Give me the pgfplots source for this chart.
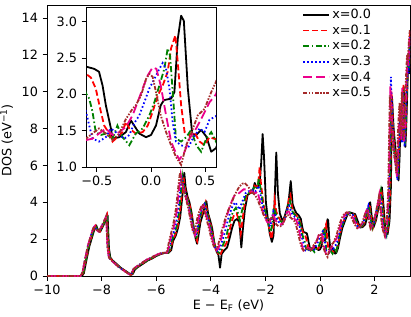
\documentclass[border=0pt]{standalone}
\usepackage{fontspec}
\setmainfont{DejaVu Sans}
\usepackage{pgfplots}
\usepackage{pgfplotstable}
\pgfplotsset{compat=1.18}
\definecolor{mplgreen}{HTML}{008000}
\definecolor{mplbrown}{HTML}{A52A2A}

\pgfplotstableread[row sep=\\]{x y\\
-10 0\\ -8.72 0\\ -8.65 0.15\\ -8.55 0.9\\ -8.45 1.6\\ -8.35 2.1\\ -8.25 2.6\\ -8.2 2.75\\ -8.12 2.45\\ -8.05 2.4\\ -7.95 2.7\\ -7.85 3.0\\ -7.78 3.3\\ -7.73 1.5\\ -7.68 1.0\\ -7.6 0.85\\ -7.45 0.65\\ -7.3 0.45\\ -7.15 0.3\\ -7.0 0.15\\ -6.92 0.06\\ -6.85 0.12\\ -6.78 0.35\\ -6.7 0.45\\ -6.6 0.55\\ -6.45 0.7\\ -6.3 0.85\\ -6.15 0.95\\ -6.0 1.08\\ -5.85 1.18\\ -5.7 1.25\\ -5.55 1.25\\
-5.45 1.4\\ -5.38 1.9\\ -5.28 2.2\\ -5.2 2.6\\ -5.12 3.2\\ -5.05 4.2\\ -4.97 5.6\\ -4.92 4.8\\ -4.85 4.3\\ -4.78 4.0\\ -4.7 3.4\\ -4.62 2.6\\ -4.55 2.0\\ -4.5 1.75\\ -4.45 2.2\\ -4.38 2.9\\ -4.3 3.3\\ -4.22 3.8\\ -4.16 4.05\\ -4.1 3.4\\ -4.02 3.0\\ -3.95 2.6\\ -3.87 1.8\\ -3.78 1.3\\ -3.72 1.15\\ -3.66 0.45\\ -3.6 1.2\\ -3.5 1.4\\ -3.4 1.55\\ -3.3 2.1\\ -3.22 2.6\\ -3.13 3.0\\ -3.03 3.1\\ -2.95 2.9\\ -2.88 1.55\\ -2.82 2.6\\ -2.75 3.6\\ -2.65 4.4\\ -2.55 4.5\\ -2.46 4.55\\ -2.39 5.05\\ -2.32 4.8\\ -2.25 4.9\\ -2.2 5.2\\ -2.15 6.2\\ -2.1 7.7\\ -2.05 6.5\\ -1.98 4.0\\ -1.9 3.0\\ -1.84 2.3\\ -1.76 1.85\\ -1.7 2.2\\ -1.65 4.5\\ -1.6 6.7\\ -1.54 4.5\\ -1.47 3.4\\ -1.4 3.1\\ -1.35 3.0\\ -1.28 3.3\\ -1.22 3.6\\ -1.15 4.0\\ -1.07 5.15\\ -1.0 3.9\\ -0.93 3.6\\ -0.86 3.4\\ -0.78 3.3\\ -0.7 3.1\\ -0.64 2.6\\
-0.6 2.38\\ -0.525 2.35\\ -0.48 2.31\\ -0.447 2.12\\ -0.417 1.85\\ -0.37 1.53\\ -0.355 1.39\\ -0.293 1.41\\ -0.232 1.48\\ -0.185 1.64\\ -0.155 1.57\\ -0.108 1.46\\ -0.046 1.41\\ 0.0 1.44\\ 0.046 1.57\\ 0.09 1.85\\ 0.12 1.92\\ 0.185 1.94\\ 0.216 2.03\\ 0.247 2.76\\ 0.278 3.08\\ 0.303 3.01\\ 0.34 2.08\\ 0.38 1.46\\ 0.417 1.44\\ 0.463 1.51\\ 0.51 1.42\\ 0.556 1.21\\ 0.6 1.26\\
0.66 1.5\\ 0.74 2.09\\ 0.82 2.6\\ 0.92 3.0\\ 1.0 3.3\\ 1.1 3.45\\ 1.2 3.4\\ 1.29 3.36\\ 1.38 3.0\\ 1.47 2.63\\ 1.56 2.65\\ 1.66 2.8\\ 1.75 3.3\\ 1.84 4.0\\ 1.9 3.2\\ 1.96 2.63\\ 2.05 3.0\\ 2.15 3.72\\ 2.22 4.3\\ 2.27 4.81\\ 2.33 3.8\\ 2.39 2.63\\ 2.48 2.27\\ 2.55 3.0\\ 2.6 4.81\\ 2.64 9.72\\ 2.7 8.0\\ 2.76 7.0\\ 2.82 6.0\\ 2.88 5.18\\ 2.92 6.5\\ 2.95 8.45\\ 3.0 9.0\\ 3.04 7.5\\ 3.07 10.26\\ 3.1 8.5\\ 3.13 7.0\\ 3.16 8.0\\ 3.19 9.5\\ 3.22 11.0\\ 3.25 12.1\\ 3.28 11.0\\ 3.3 13.3\\
}\tblA

\pgfplotstableread[row sep=\\]{x y\\
-10 0\\ -8.74 0\\ -8.67 0.18\\ -8.57 0.92\\ -8.47 1.62\\ -8.37 2.12\\ -8.27 2.6\\ -8.22 2.72\\ -8.14 2.45\\ -8.07 2.4\\ -7.97 2.7\\ -7.87 3.0\\ -7.8 3.28\\ -7.75 1.5\\ -7.7 1.0\\ -7.62 0.85\\ -7.47 0.65\\ -7.32 0.45\\ -7.17 0.3\\ -7.02 0.15\\ -6.94 0.07\\ -6.87 0.14\\ -6.8 0.36\\ -6.72 0.46\\ -6.62 0.56\\ -6.47 0.71\\ -6.32 0.86\\ -6.17 0.96\\ -6.02 1.09\\ -5.87 1.19\\ -5.72 1.25\\ -5.57 1.26\\
-5.48 1.42\\ -5.4 1.9\\ -5.3 2.25\\ -5.22 2.65\\ -5.14 3.3\\ -5.07 4.3\\ -5.0 5.4\\ -4.95 4.8\\ -4.88 4.3\\ -4.8 4.0\\ -4.72 3.5\\ -4.64 2.7\\ -4.56 2.1\\ -4.5 1.9\\ -4.47 2.3\\ -4.4 3.0\\ -4.32 3.4\\ -4.24 3.8\\ -4.19 4.0\\ -4.12 3.4\\ -4.04 3.0\\ -3.97 2.6\\ -3.89 1.9\\ -3.8 1.4\\ -3.72 1.2\\ -3.66 1.1\\ -3.58 1.4\\ -3.5 1.6\\ -3.42 1.8\\ -3.33 2.3\\ -3.25 2.9\\ -3.15 3.3\\ -3.05 3.4\\ -2.97 3.0\\ -2.9 2.3\\ -2.84 3.0\\ -2.77 3.8\\ -2.67 4.4\\ -2.57 4.5\\ -2.48 4.6\\ -2.4 4.9\\ -2.32 4.8\\ -2.26 5.0\\ -2.21 5.9\\ -2.16 5.0\\ -2.08 4.0\\ -2.0 3.4\\ -1.9 2.9\\ -1.82 2.3\\ -1.77 2.0\\ -1.72 2.6\\ -1.66 4.1\\ -1.6 3.5\\ -1.52 3.2\\ -1.44 3.0\\ -1.36 2.9\\ -1.28 3.2\\ -1.2 3.5\\ -1.14 4.2\\ -1.08 4.4\\ -1.02 3.7\\ -0.95 3.4\\ -0.88 3.3\\ -0.8 3.2\\ -0.72 2.9\\ -0.66 2.5\\
-0.6 2.28\\ -0.555 2.23\\ -0.51 2.08\\ -0.463 1.76\\ -0.432 1.57\\ -0.386 1.46\\ -0.355 1.35\\ -0.31 1.41\\ -0.263 1.48\\ -0.232 1.62\\ -0.2 1.53\\ -0.14 1.46\\ -0.077 1.48\\ -0.03 1.57\\ 0.015 1.76\\ 0.062 1.98\\ 0.108 2.12\\ 0.154 2.31\\ 0.185 2.63\\ 0.225 2.81\\ 0.247 2.44\\ 0.278 1.85\\ 0.31 1.48\\ 0.355 1.44\\ 0.4 1.48\\ 0.448 1.35\\ 0.494 1.30\\ 0.54 1.41\\ 0.6 1.38\\
0.66 1.7\\ 0.72 2.2\\ 0.8 2.7\\ 0.9 3.1\\ 1.0 3.35\\ 1.08 3.45\\ 1.18 3.4\\ 1.27 3.3\\ 1.36 2.9\\ 1.45 2.6\\ 1.55 2.7\\ 1.64 2.9\\ 1.73 3.4\\ 1.82 3.9\\ 1.88 3.1\\ 1.94 2.6\\ 2.03 3.0\\ 2.13 3.7\\ 2.2 4.3\\ 2.25 4.7\\ 2.31 3.7\\ 2.37 2.6\\ 2.46 2.3\\ 2.53 3.1\\ 2.58 5.0\\ 2.62 10.0\\ 2.68 8.2\\ 2.74 6.8\\ 2.8 6.2\\ 2.86 5.4\\ 2.9 6.8\\ 2.94 8.6\\ 2.98 9.2\\ 3.02 7.4\\ 3.06 10.4\\ 3.09 8.4\\ 3.12 7.2\\ 3.15 8.2\\ 3.18 9.7\\ 3.21 11.2\\ 3.24 12.0\\ 3.27 11.3\\ 3.3 13.2\\
}\tblB

\pgfplotstableread[row sep=\\]{x y\\
-10 0\\ -8.74 0\\ -8.67 0.18\\ -8.57 0.92\\ -8.47 1.62\\ -8.37 2.12\\ -8.27 2.6\\ -8.22 2.72\\ -8.14 2.45\\ -8.07 2.4\\ -7.97 2.7\\ -7.87 3.0\\ -7.8 3.28\\ -7.75 1.5\\ -7.7 1.0\\ -7.62 0.85\\ -7.47 0.65\\ -7.32 0.45\\ -7.17 0.3\\ -7.02 0.15\\ -6.94 0.07\\ -6.87 0.14\\ -6.8 0.36\\ -6.72 0.46\\ -6.62 0.56\\ -6.47 0.71\\ -6.32 0.86\\ -6.17 0.96\\ -6.02 1.09\\ -5.87 1.19\\ -5.72 1.25\\ -5.57 1.26\\
-5.5 1.45\\ -5.42 1.95\\ -5.33 2.3\\ -5.25 2.7\\ -5.17 3.4\\ -5.1 4.4\\ -5.04 5.4\\ -4.98 4.8\\ -4.9 4.3\\ -4.82 4.0\\ -4.74 3.5\\ -4.66 2.8\\ -4.58 2.2\\ -4.52 2.1\\ -4.48 2.4\\ -4.42 3.0\\ -4.34 3.5\\ -4.26 3.85\\ -4.21 3.95\\ -4.14 3.4\\ -4.06 3.0\\ -3.99 2.6\\ -3.91 2.0\\ -3.82 1.5\\ -3.74 1.3\\ -3.68 1.25\\ -3.6 1.5\\ -3.52 1.8\\ -3.44 2.1\\ -3.36 2.6\\ -3.28 3.1\\ -3.18 3.5\\ -3.08 3.7\\ -3.0 3.4\\ -2.93 3.0\\ -2.86 3.5\\ -2.79 4.0\\ -2.7 4.4\\ -2.6 4.5\\ -2.5 4.6\\ -2.42 4.8\\ -2.35 4.7\\ -2.28 4.9\\ -2.24 5.3\\ -2.18 4.8\\ -2.1 4.0\\ -2.02 3.6\\ -1.93 3.1\\ -1.85 2.6\\ -1.8 2.4\\ -1.74 2.9\\ -1.69 3.7\\ -1.62 3.4\\ -1.54 3.1\\ -1.46 3.0\\ -1.38 2.9\\ -1.3 3.1\\ -1.22 3.4\\ -1.16 3.9\\ -1.1 4.1\\ -1.04 3.6\\ -0.97 3.4\\ -0.9 3.3\\ -0.82 3.2\\ -0.74 2.9\\ -0.67 2.4\\
-0.6 2.01\\ -0.57 1.94\\ -0.54 1.76\\ -0.51 1.48\\ -0.463 1.44\\ -0.417 1.46\\ -0.355 1.39\\ -0.31 1.57\\ -0.263 1.41\\ -0.2 1.30\\ -0.14 1.46\\ -0.077 1.53\\ -0.015 1.71\\ 0.031 1.89\\ 0.077 2.12\\ 0.123 2.35\\ 0.154 2.63\\ 0.176 2.53\\ 0.205 1.94\\ 0.23 1.39\\ 0.278 1.35\\ 0.325 1.41\\ 0.37 1.51\\ 0.417 1.30\\ 0.463 1.21\\ 0.51 1.39\\ 0.556 1.48\\ 0.6 1.35\\
0.64 1.6\\ 0.7 2.1\\ 0.78 2.6\\ 0.88 3.0\\ 0.98 3.3\\ 1.06 3.45\\ 1.16 3.4\\ 1.25 3.3\\ 1.34 2.9\\ 1.43 2.6\\ 1.53 2.7\\ 1.62 2.9\\ 1.71 3.4\\ 1.8 3.8\\ 1.86 3.1\\ 1.92 2.6\\ 2.01 3.0\\ 2.11 3.7\\ 2.18 4.2\\ 2.23 4.6\\ 2.29 3.6\\ 2.35 2.6\\ 2.44 2.2\\ 2.51 3.0\\ 2.56 4.9\\ 2.61 9.6\\ 2.67 8.0\\ 2.73 6.7\\ 2.79 6.0\\ 2.85 5.3\\ 2.89 6.7\\ 2.93 8.3\\ 2.97 9.0\\ 3.01 7.3\\ 3.05 10.1\\ 3.08 8.3\\ 3.11 7.1\\ 3.14 8.1\\ 3.17 9.6\\ 3.2 11.0\\ 3.23 12.0\\ 3.26 11.2\\ 3.3 13.0\\
}\tblC

\pgfplotstableread[row sep=\\]{x y\\
-10 0\\ -8.77 0\\ -8.7 0.2\\ -8.6 0.95\\ -8.5 1.65\\ -8.4 2.15\\ -8.3 2.6\\ -8.25 2.7\\ -8.17 2.45\\ -8.1 2.42\\ -8.0 2.7\\ -7.9 3.0\\ -7.83 3.25\\ -7.78 1.5\\ -7.73 1.0\\ -7.65 0.86\\ -7.5 0.66\\ -7.35 0.46\\ -7.2 0.31\\ -7.05 0.16\\ -6.97 0.08\\ -6.9 0.16\\ -6.83 0.38\\ -6.75 0.48\\ -6.65 0.58\\ -6.5 0.73\\ -6.35 0.88\\ -6.2 0.98\\ -6.05 1.1\\ -5.9 1.2\\ -5.75 1.26\\ -5.6 1.27\\
-5.52 1.5\\ -5.45 2.0\\ -5.36 2.35\\ -5.28 2.8\\ -5.2 3.5\\ -5.13 4.5\\ -5.07 5.5\\ -5.01 4.9\\ -4.93 4.4\\ -4.85 4.0\\ -4.77 3.5\\ -4.69 2.9\\ -4.61 2.3\\ -4.55 2.15\\ -4.5 2.4\\ -4.44 3.0\\ -4.36 3.5\\ -4.28 3.8\\ -4.23 3.9\\ -4.16 3.4\\ -4.08 3.0\\ -4.01 2.6\\ -3.93 2.0\\ -3.84 1.5\\ -3.76 1.35\\ -3.7 1.35\\ -3.62 1.7\\ -3.54 2.1\\ -3.46 2.5\\ -3.38 3.0\\ -3.3 3.4\\ -3.2 3.8\\ -3.1 4.0\\ -3.02 3.8\\ -2.95 3.6\\ -2.88 3.9\\ -2.8 4.2\\ -2.72 4.5\\ -2.62 4.6\\ -2.52 4.6\\ -2.44 4.7\\ -2.36 4.6\\ -2.3 4.7\\ -2.26 4.9\\ -2.2 4.6\\ -2.12 3.9\\ -2.04 3.5\\ -1.96 3.1\\ -1.88 2.8\\ -1.82 2.7\\ -1.76 3.1\\ -1.71 3.5\\ -1.64 3.3\\ -1.56 3.0\\ -1.48 2.9\\ -1.4 2.8\\ -1.32 3.0\\ -1.24 3.3\\ -1.18 3.7\\ -1.12 3.8\\ -1.06 3.5\\ -0.99 3.3\\ -0.92 3.2\\ -0.84 3.1\\ -0.76 2.8\\ -0.68 2.2\\
-0.6 1.76\\ -0.57 1.57\\ -0.54 1.39\\ -0.48 1.35\\ -0.417 1.41\\ -0.37 1.53\\ -0.31 1.46\\ -0.247 1.39\\ -0.2 1.44\\ -0.155 1.60\\ -0.108 1.71\\ -0.062 1.89\\ -0.015 2.08\\ 0.031 2.21\\ 0.077 2.35\\ 0.108 2.43\\ 0.139 2.35\\ 0.17 2.08\\ 0.2 1.62\\ 0.23 1.35\\ 0.278 1.30\\ 0.34 1.26\\ 0.386 1.39\\ 0.448 1.53\\ 0.494 1.48\\ 0.54 1.65\\ 0.6 1.7\\
0.66 2.0\\ 0.74 2.5\\ 0.84 2.9\\ 0.94 3.25\\ 1.02 3.4\\ 1.12 3.4\\ 1.22 3.3\\ 1.31 2.9\\ 1.4 2.6\\ 1.5 2.7\\ 1.59 2.9\\ 1.68 3.4\\ 1.77 3.8\\ 1.83 3.1\\ 1.89 2.6\\ 1.98 2.9\\ 2.08 3.6\\ 2.15 4.1\\ 2.2 4.5\\ 2.26 3.6\\ 2.32 2.6\\ 2.41 2.2\\ 2.48 2.9\\ 2.54 4.8\\ 2.6 10.8\\ 2.66 8.2\\ 2.72 6.6\\ 2.78 6.0\\ 2.84 5.2\\ 2.88 6.6\\ 2.92 8.2\\ 2.96 9.0\\ 3.0 7.2\\ 3.04 10.0\\ 3.07 8.2\\ 3.1 7.0\\ 3.13 8.0\\ 3.16 9.5\\ 3.19 10.8\\ 3.22 11.8\\ 3.25 11.0\\ 3.3 13.0\\
}\tblD

\pgfplotstableread[row sep=\\]{x y\\
-10 0\\ -8.77 0\\ -8.7 0.2\\ -8.6 0.95\\ -8.5 1.65\\ -8.4 2.15\\ -8.3 2.6\\ -8.25 2.7\\ -8.17 2.45\\ -8.1 2.42\\ -8.0 2.7\\ -7.9 3.0\\ -7.83 3.25\\ -7.78 1.5\\ -7.73 1.0\\ -7.65 0.86\\ -7.5 0.66\\ -7.35 0.46\\ -7.2 0.31\\ -7.05 0.16\\ -6.97 0.08\\ -6.9 0.16\\ -6.83 0.38\\ -6.75 0.48\\ -6.65 0.58\\ -6.5 0.73\\ -6.35 0.88\\ -6.2 0.98\\ -6.05 1.1\\ -5.9 1.2\\ -5.75 1.26\\ -5.6 1.27\\
-5.55 1.5\\ -5.48 2.0\\ -5.4 2.4\\ -5.32 2.9\\ -5.24 3.6\\ -5.17 4.6\\ -5.1 5.5\\ -5.04 5.0\\ -4.96 4.5\\ -4.88 4.1\\ -4.8 3.6\\ -4.72 3.0\\ -4.64 2.4\\ -4.58 2.2\\ -4.53 2.5\\ -4.47 3.0\\ -4.39 3.5\\ -4.31 3.8\\ -4.26 3.85\\ -4.19 3.4\\ -4.11 3.0\\ -4.04 2.6\\ -3.96 2.1\\ -3.87 1.6\\ -3.79 1.4\\ -3.72 1.5\\ -3.64 1.9\\ -3.56 2.4\\ -3.48 2.9\\ -3.4 3.3\\ -3.32 3.7\\ -3.22 4.1\\ -3.12 4.4\\ -3.04 4.4\\ -2.96 4.5\\ -2.88 4.6\\ -2.8 4.7\\ -2.7 4.7\\ -2.6 4.6\\ -2.5 4.6\\ -2.42 4.5\\ -2.35 4.5\\ -2.3 4.6\\ -2.24 4.3\\ -2.16 3.8\\ -2.08 3.4\\ -2.0 3.1\\ -1.92 2.9\\ -1.85 2.9\\ -1.78 3.2\\ -1.72 3.3\\ -1.65 3.1\\ -1.57 2.9\\ -1.5 2.8\\ -1.42 2.8\\ -1.34 2.9\\ -1.26 3.2\\ -1.2 3.5\\ -1.14 3.5\\ -1.08 3.3\\ -1.0 3.2\\ -0.93 3.1\\ -0.86 3.0\\ -0.78 2.6\\ -0.7 2.0\\ -0.65 1.6\\
-0.6 1.37\\ -0.54 1.39\\ -0.48 1.46\\ -0.417 1.53\\ -0.355 1.44\\ -0.293 1.48\\ -0.232 1.55\\ -0.17 1.71\\ -0.124 1.89\\ -0.077 2.08\\ -0.03 2.26\\ 0.015 2.37\\ 0.05 2.35\\ 0.09 2.12\\ 0.139 1.71\\ 0.185 1.35\\ 0.23 1.19\\ 0.262 1.10\\ 0.31 1.21\\ 0.355 1.39\\ 0.417 1.53\\ 0.48 1.71\\ 0.54 1.89\\ 0.6 2.0\\
0.66 2.3\\ 0.74 2.7\\ 0.84 3.1\\ 0.92 3.35\\ 1.0 3.45\\ 1.1 3.4\\ 1.2 3.2\\ 1.29 2.9\\ 1.38 2.6\\ 1.48 2.7\\ 1.57 2.9\\ 1.66 3.4\\ 1.75 3.7\\ 1.81 3.0\\ 1.87 2.6\\ 1.96 2.9\\ 2.06 3.5\\ 2.13 4.0\\ 2.18 4.4\\ 2.24 3.5\\ 2.3 2.6\\ 2.39 2.2\\ 2.46 2.9\\ 2.52 4.7\\ 2.58 10.3\\ 2.64 8.4\\ 2.7 6.8\\ 2.76 6.2\\ 2.82 5.4\\ 2.86 6.8\\ 2.9 8.4\\ 2.94 9.2\\ 2.98 7.4\\ 3.02 10.2\\ 3.05 8.4\\ 3.08 7.2\\ 3.12 8.2\\ 3.15 9.7\\ 3.18 11.0\\ 3.21 12.0\\ 3.24 11.4\\ 3.27 12.6\\ 3.3 13.3\\
}\tblE

\pgfplotstableread[row sep=\\]{x y\\
-10 0\\ -8.77 0\\ -8.7 0.2\\ -8.6 0.95\\ -8.5 1.65\\ -8.4 2.15\\ -8.3 2.6\\ -8.25 2.7\\ -8.17 2.45\\ -8.1 2.42\\ -8.0 2.7\\ -7.9 3.0\\ -7.83 3.25\\ -7.78 1.5\\ -7.73 1.0\\ -7.65 0.86\\ -7.5 0.66\\ -7.35 0.46\\ -7.2 0.31\\ -7.05 0.16\\ -6.97 0.08\\ -6.9 0.16\\ -6.83 0.38\\ -6.75 0.48\\ -6.65 0.58\\ -6.5 0.73\\ -6.35 0.88\\ -6.2 0.98\\ -6.05 1.1\\ -5.9 1.2\\ -5.75 1.26\\ -5.6 1.27\\
-5.58 1.5\\ -5.51 2.0\\ -5.43 2.45\\ -5.35 3.0\\ -5.27 3.7\\ -5.2 4.7\\ -5.13 5.6\\ -5.07 5.1\\ -4.99 4.6\\ -4.91 4.2\\ -4.83 3.7\\ -4.75 3.1\\ -4.67 2.5\\ -4.61 2.3\\ -4.56 2.6\\ -4.5 3.1\\ -4.42 3.5\\ -4.34 3.8\\ -4.29 3.85\\ -4.22 3.4\\ -4.14 3.0\\ -4.07 2.6\\ -3.99 2.1\\ -3.9 1.65\\ -3.82 1.45\\ -3.75 1.6\\ -3.67 2.0\\ -3.59 2.5\\ -3.51 2.9\\ -3.43 3.3\\ -3.35 3.6\\ -3.25 3.9\\ -3.15 4.3\\ -3.05 4.6\\ -2.95 4.85\\ -2.85 5.0\\ -2.76 5.05\\ -2.66 4.9\\ -2.56 4.7\\ -2.46 4.5\\ -2.38 4.4\\ -2.3 4.2\\ -2.22 3.9\\ -2.14 3.6\\ -2.06 3.3\\ -1.98 3.1\\ -1.9 3.0\\ -1.82 3.1\\ -1.75 3.2\\ -1.68 3.0\\ -1.6 2.8\\ -1.52 2.7\\ -1.44 2.7\\ -1.36 2.8\\ -1.28 3.1\\ -1.22 3.3\\ -1.16 3.3\\ -1.1 3.2\\ -1.02 3.1\\ -0.95 3.0\\ -0.88 2.8\\ -0.8 2.3\\ -0.72 1.8\\ -0.66 1.5\\
-0.6 1.39\\ -0.54 1.46\\ -0.48 1.53\\ -0.417 1.46\\ -0.355 1.37\\ -0.293 1.46\\ -0.232 1.66\\ -0.17 1.80\\ -0.14 1.85\\ -0.093 1.98\\ -0.046 2.21\\ -0.015 2.28\\ 0.015 2.24\\ 0.046 2.03\\ 0.09 1.71\\ 0.139 1.48\\ 0.185 1.30\\ 0.23 1.14\\ 0.278 1.03\\ 0.325 1.30\\ 0.37 1.46\\ 0.432 1.71\\ 0.494 1.80\\ 0.556 2.03\\ 0.6 2.17\\
0.66 2.5\\ 0.74 2.9\\ 0.82 3.2\\ 0.9 3.4\\ 0.98 3.45\\ 1.08 3.35\\ 1.18 3.1\\ 1.27 2.8\\ 1.36 2.6\\ 1.46 2.7\\ 1.55 2.9\\ 1.64 3.3\\ 1.73 3.6\\ 1.79 3.0\\ 1.85 2.6\\ 1.94 2.9\\ 2.04 3.4\\ 2.11 3.9\\ 2.16 4.3\\ 2.22 3.5\\ 2.28 2.6\\ 2.37 2.2\\ 2.44 2.8\\ 2.5 4.6\\ 2.56 9.8\\ 2.62 8.6\\ 2.68 7.0\\ 2.74 6.4\\ 2.8 5.6\\ 2.84 7.0\\ 2.88 8.6\\ 2.92 9.4\\ 2.96 7.6\\ 3.0 10.0\\ 3.03 8.6\\ 3.06 7.4\\ 3.1 8.4\\ 3.13 9.8\\ 3.16 11.0\\ 3.19 12.0\\ 3.22 11.6\\ 3.26 12.8\\ 3.3 13.4\\
}\tblF

\tikzset{
  sA/.style={black, solid, line width=1.8pt, line join=round},
  sB/.style={red, dash pattern=on 6pt off 3pt, line width=1.8pt},
  sC/.style={mplgreen, dash pattern=on 6pt off 2.5pt on 1.5pt off 2.5pt, line width=1.8pt},
  sD/.style={blue, dash pattern=on 1.6pt off 2.4pt, line width=1.8pt},
  sE/.style={magenta, dash pattern=on 9pt off 4pt, line width=1.8pt},
  sF/.style={mplbrown, dash pattern=on 4pt off 1.5pt on 1.5pt off 1.5pt on 1.5pt off 1.5pt, line width=1.8pt},
}
\pgfplotsset{
  common/.style={
    scale only axis,
    tick align=outside,
    tick pos=left,
    major tick length=4.5pt,
    every tick/.style={black, line width=0.8pt},
    axis line style={line width=0.8pt},
    tick label style={font=\fontsize{12.8}{15}\selectfont},
    label style={font=\fontsize{12.8}{15}\selectfont},
    /pgf/number format/assume math mode=true,
  },
}

\begin{document}
\fontsize{12.8}{15}\selectfont
\begin{tikzpicture}
\path[use as bounding box] (-47pt,-40pt) rectangle (364pt,276pt);
\begin{axis}[common,
  at={(0pt,0pt)}, anchor=south west,
  width=363pt, height=271pt,
  xmin=-10, xmax=3.3, ymin=0, ymax=14.7,
  xtick={-10,-8,-6,-4,-2,0,2},
  xticklabels={−10,−8,−6,−4,−2,0,2},
  ytick={0,2,4,6,8,10,12,14},
  yticklabels={0,2,4,6,8,10,12,14},
  xlabel={E − E\textsubscript{F} (eV)},
  xlabel style={yshift=4pt},
  ylabel={DOS (eV\textsuperscript{−1})},
  legend cell align=left,
  legend image code/.code={\draw[#1] (0pt,0pt) -- (26pt,0pt);},
  legend style={draw=none, fill=none, at={(0.695,1.0)}, anchor=north west,
    font=\fontsize{12.8}{15}\selectfont, row sep=0.2pt},
]
\addplot[sA] table {\tblA}; \addlegendentry{x=0.0}
\addplot[sB] table {\tblB}; \addlegendentry{x=0.1}
\addplot[sC] table {\tblC}; \addlegendentry{x=0.2}
\addplot[sD] table {\tblD}; \addlegendentry{x=0.3}
\addplot[sE] table {\tblE}; \addlegendentry{x=0.4}
\addplot[sF] table {\tblF}; \addlegendentry{x=0.5}
\end{axis}
\begin{axis}[common,
  at={(39pt,109pt)}, anchor=south west,
  width=130pt, height=160pt,
  xmin=-0.6, xmax=0.6, ymin=1, ymax=3.2,
  xtick={-0.5,0,0.5},
  xticklabels={−0.5,0.0,0.5},
  ytick={1,1.5,2,2.5,3},
  yticklabels={1.0,1.5,2.0,2.5,3.0},
  axis background/.style={fill=white},
  restrict x to domain=-0.8:0.8,
]
\addplot[sA] table {\tblA};
\addplot[sB] table {\tblB};
\addplot[sC] table {\tblC};
\addplot[sD] table {\tblD};
\addplot[sE] table {\tblE};
\addplot[sF] table {\tblF};
\end{axis}
\end{tikzpicture}
\end{document}
